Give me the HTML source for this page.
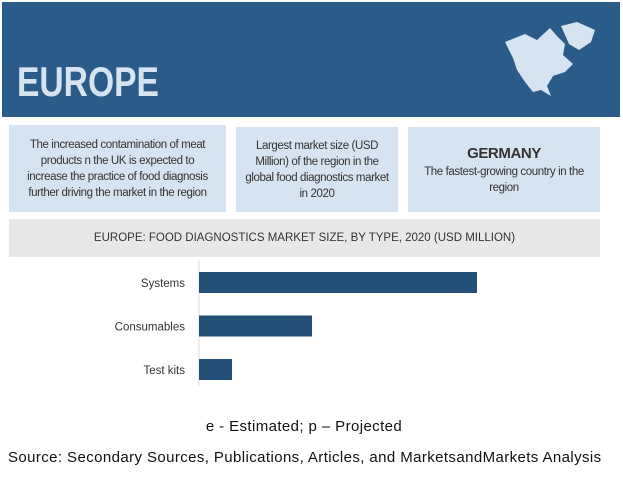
<!DOCTYPE html>
<html><head><meta charset="utf-8"><style>
body{margin:0;width:623px;height:477px;background:#fff;position:relative;overflow:hidden;font-family:"Liberation Sans",sans-serif}
.abs{position:absolute}
.box{position:absolute;background:#d6e3f0;color:#333;font-size:11.5px;line-height:16px;text-align:center;display:flex;flex-direction:column;justify-content:center;letter-spacing:-0.4px;font-family:"Liberation Sans Narrow","Liberation Sans",sans-serif}
</style></head><body>
<div class="abs" style="left:2px;top:2px;width:618px;height:115px;background:#2b5b88"></div>
<div class="abs" style="left:17px;top:58px;font-size:42px;font-weight:bold;color:#d6e3f0;transform:scaleX(0.8);transform-origin:left top;font-family:'Liberation Sans',sans-serif">EUROPE</div>
<svg class="abs" style="left:495px;top:20px" width="105" height="82" viewBox="0 0 105 82"><path d="M10 22 L30 14 L42 20 L55 8 L62 16 L70 24 L68 35 L78 44 L70 52 L58 56 L52 66 L56 76 L46 70 L38 72 L30 62 L22 50 L18 38 Z M66 6 L82 2 L100 10 L96 22 L84 30 L74 24 Z" fill="#d6e3f0"/></svg>
<div class="box" style="left:9px;top:125px;width:217px;height:87px">The increased contamination of meat<br>products n the UK is expected to<br>increase the practice of food diagnosis<br>further driving the market in the region</div>
<div class="box" style="left:236px;top:127px;width:162px;height:85px">Largest market size (USD<br>Million) of the region in the<br>global food diagnostics market<br>in 2020</div>
<div class="box" style="left:408px;top:127px;width:192px;height:85px"><div style="font-weight:bold;font-size:15px;line-height:20px">GERMANY</div>The fastest-growing country in the<br>region</div>
<div class="abs" style="left:9px;top:219px;width:591px;height:38px;background:#e8e8e8;color:#333;font-size:11.5px;line-height:38px;text-align:center;font-family:'Liberation Sans Narrow','Liberation Sans',sans-serif">EUROPE: FOOD DIAGNOSTICS MARKET SIZE, BY TYPE, 2020 (USD MILLION)</div>
<svg class="abs" id="chart" style="left:0;top:0" width="623" height="400"></svg>
<div class="abs" style="left:0;width:608px;top:418px;text-align:center;font-size:15px;letter-spacing:0.4px;color:#111">e - Estimated; p – Projected</div>
<div class="abs" style="left:8px;top:449px;font-size:15px;letter-spacing:0.4px;color:#111;white-space:nowrap">Source: Secondary Sources, Publications, Articles, and MarketsandMarkets Analysis</div>
<script>
const categories=["Systems","Consumables","Test kits"];
const values=[278,113,33];
const svg=document.getElementById('chart');const NS="http://www.w3.org/2000/svg";
const x0=199,xMax=300,pxMax=300;
function xs(v){return x0+v/xMax*pxMax;}
function ys(i){return 272+i*43.5;}
const ax=document.createElementNS(NS,'line');


ax.setAttribute('x1',x0);ax.setAttribute('x2',x0);ax.setAttribute('y1',260);ax.setAttribute('y2',386);ax.setAttribute('stroke','#ddd');svg.appendChild(ax);
categories.forEach((c,i)=>{
const r=document.createElementNS(NS,'rect');


r.setAttribute('x',x0);r.setAttribute('y',ys(i));r.setAttribute('width',xs(values[i])-x0);r.setAttribute('height',21);r.setAttribute('fill','#234f79');svg.appendChild(r);
const t=document.createElementNS(NS,'text');


t.setAttribute('x',185);t.setAttribute('y',ys(i)+15);t.setAttribute('text-anchor','end');t.setAttribute('font-size','11.5');t.setAttribute('fill','#333');t.setAttribute('font-family','Liberation Sans Narrow, Liberation Sans, sans-serif');t.textContent=c;svg.appendChild(t);
});
</script>
</body></html>
